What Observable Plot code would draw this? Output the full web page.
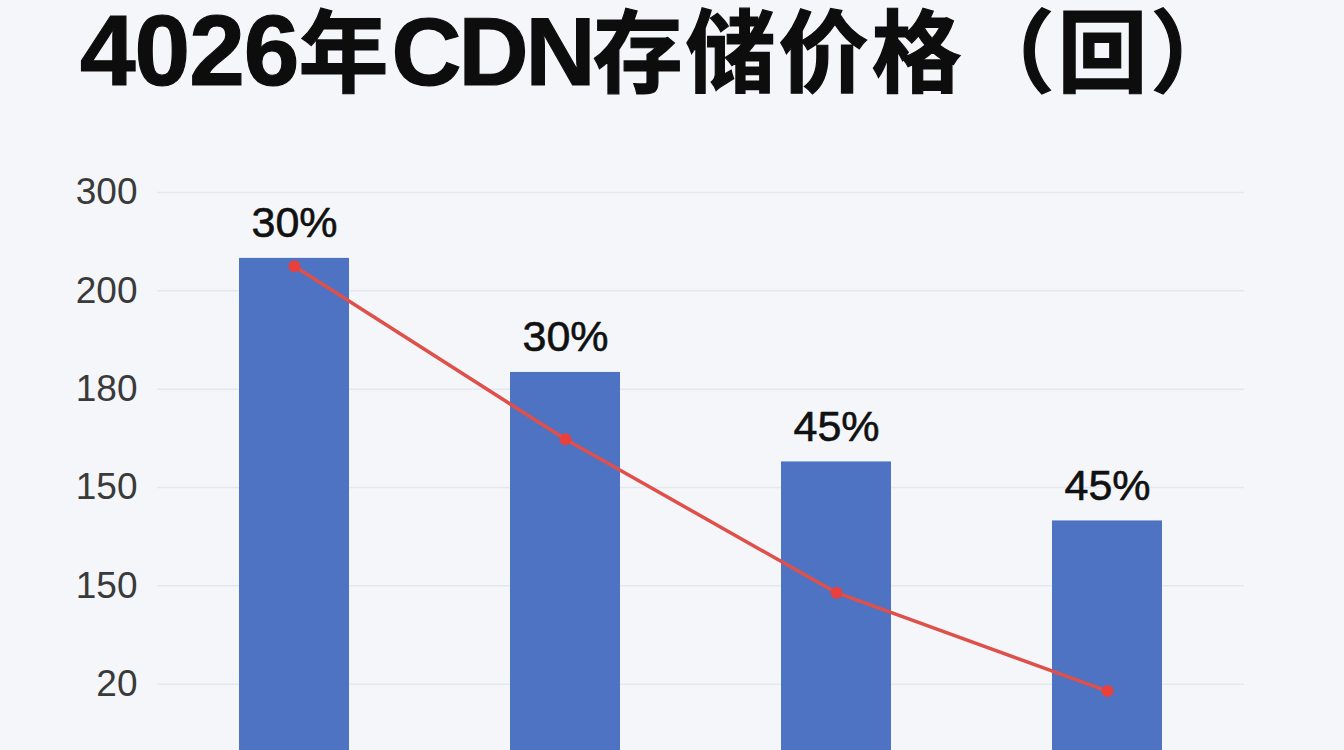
<!DOCTYPE html>
<html>
<head>
<meta charset="utf-8">
<script src="https://cdn.jsdelivr.net/npm/d3@7"></script>
<script src="https://cdn.jsdelivr.net/npm/@observablehq/plot@0.6"></script>
<style>
  html, body { margin: 0; padding: 0; background: #f4f6f9; overflow: hidden; width: 1344px; height: 750px; }
  #title {
    position: absolute; left: 80px; top: 5px; margin: 0;
    font-family: "Liberation Sans", "Noto Sans CJK SC", sans-serif;
    font-weight: 700; font-size: 90px; line-height: 90px; color: #0d0d0d;
    white-space: nowrap; letter-spacing: 3px;
    -webkit-text-stroke: 1.2px #0d0d0d;
  }
  #title .lat { font-size: 100px; letter-spacing: -1px; }
  #title .cdn { font-size: 97px; letter-spacing: -3px; }
  #chart { position: absolute; left: 0; top: 140px; }
</style>
</head>
<body>
<h1 id="title"><span class="lat">4026</span>年<span class="cdn">CDN</span>存储价格（回）</h1>
<div id="chart"></div>
<script>
// Categories (four periods, unlabeled in the reference)
const categories = ["A", "B", "C", "D"];
// Bar heights and red-line values, in gridline units (gridline 1 = "20" ... gridline 6 = "300")
const barValues  = [5.33, 4.17, 3.26, 2.66];
const lineValues = [5.25, 3.49, 1.93, 0.93];
// Percentage labels above bars
const pctLabels = ["30%", "30%", "45%", "45%"];
// Y tick positions and the labels printed on them
const tickPositions = [1, 2, 3, 4, 5, 6];
const tickLabels    = ["20", "150", "150", "180", "200", "300"];

const data = categories.map((c, i) => ({ cat: c, bar: barValues[i], line: lineValues[i], pct: pctLabels[i] }));

const chart = Plot.plot({
  width: 1344,
  height: 642,
  marginTop: 52,
  marginBottom: 0,
  marginLeft: 157,
  marginRight: 100,
  style: { background: "transparent", fontFamily: "Liberation Sans, sans-serif", overflow: "visible" },
  x: { domain: categories, paddingInner: 0.594, paddingOuter: 0.3, axis: null },
  y: { domain: [0, 6] },
  marks: [
    Plot.ruleY(tickPositions, { stroke: "#e3e7ee", strokeWidth: 1.5 }),
    Plot.axisY({
      ticks: tickPositions,
      tickFormat: d => tickLabels[tickPositions.indexOf(d)],
      tickSize: 0,
      tickPadding: 20,
      fontSize: 37,
      fill: "#3a3a3a",
      label: null
    }),
    Plot.barY(data, { x: "cat", y: "bar", fill: "#4e73c3" }),
    Plot.line(data, { x: "cat", y: "line", stroke: "#e0504b", strokeWidth: 3.5 }),
    Plot.dot(data, { x: "cat", y: "line", r: 6, fill: "#e8413d", stroke: "none" }),
    Plot.text(data, { x: "cat", y: "bar", text: "pct", dy: -35, fontSize: 43, fill: "#111", stroke: "#111", strokeWidth: 0.6 })
  ]
});
document.getElementById("chart").appendChild(chart);
</script>
</body>
</html>
